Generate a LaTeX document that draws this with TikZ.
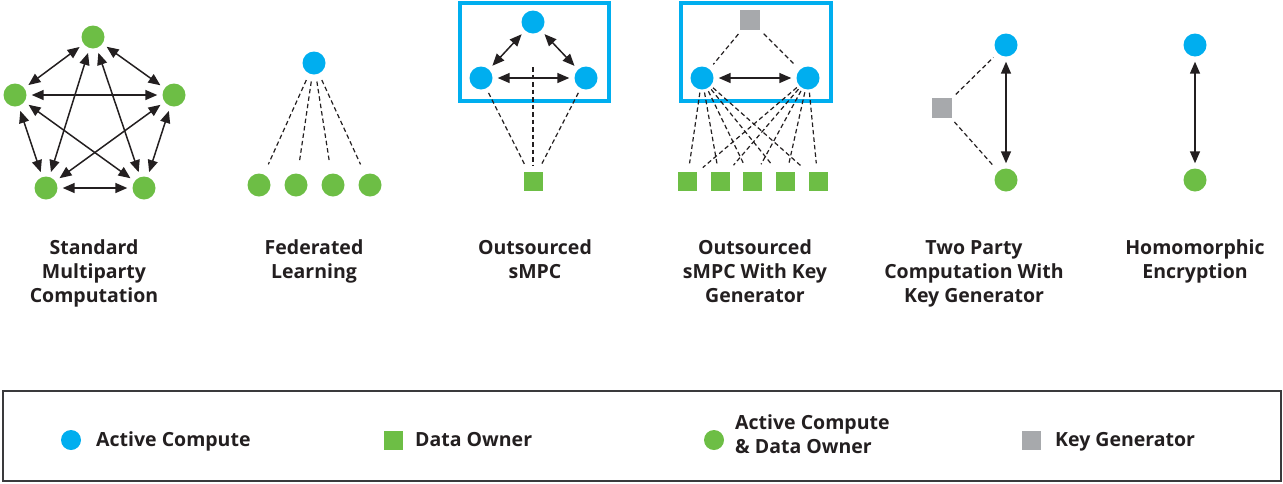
\documentclass[tikz,border=0pt]{standalone}
\usepackage{fontspec}
\setmainfont{Open Sans}
\usetikzlibrary{arrows.meta}
\definecolor{acblue}{HTML}{00AEEF}
\definecolor{dogreen}{HTML}{6DBE45}
\definecolor{kggray}{HTML}{A7A9AC}
\definecolor{ink}{HTML}{231F20}
\definecolor{rule}{HTML}{3A3A3C}

\begin{document}
\begin{tikzpicture}[x=1pt,y=-1pt,
  compute/.style={circle,fill=acblue,minimum size=23pt,inner sep=0pt},
  hybrid/.style={circle,fill=dogreen,minimum size=23pt,inner sep=0pt},
  owner/.style={rectangle,fill=dogreen,minimum size=19pt,inner sep=0pt},
  keygen/.style={rectangle,fill=kggray,minimum size=20pt,inner sep=0pt},
  tip/.tip={Triangle[length=12pt,width=10pt]},
  link/.style={draw=ink,line width=1.5pt,tip-tip,shorten <=5pt,shorten >=5pt},
  share/.style={draw=ink,line width=1.2pt,dash pattern=on 4.5pt off 3pt,shorten <=5pt,shorten >=6pt},
  frame/.style={draw=acblue,line width=3.5pt},
  title/.style={font=\bfseries\fontsize{19.5}{24}\selectfont,align=center,text=ink,anchor=north,inner sep=0pt},
  legend/.style={font=\bfseries\fontsize{19.5}{24}\selectfont,align=left,text=ink,anchor=north west,inner sep=0pt}]

\useasboundingbox (0,0) rectangle (1283,483);

% ---- Standard multiparty computation: complete graph on five parties
\node[hybrid] (p1) at (93,37) {};
\node[hybrid] (p2) at (15,95) {};
\node[hybrid] (p3) at (174,95) {};
\node[hybrid] (p4) at (46,188) {};
\node[hybrid] (p5) at (144,188) {};
\foreach \a/\b in {p1/p2,p1/p3,p1/p4,p1/p5,p2/p3,p2/p4,p2/p5,p3/p4,p3/p5,p4/p5}
  \draw[link] (\a) -- (\b);

% ---- Federated learning
\node[compute] (f0) at (314,63) {};
\foreach \i/\x in {1/259,2/296,3/333,4/370} {
  \node[hybrid] (f\i) at (\x,185) {};
  \draw[share,shorten <=7pt,shorten >=11pt] (f0) -- (f\i);
}

% ---- Outsourced sMPC
\draw[frame] (460,3) rectangle (609,101);
\node[compute] (o1) at (533,22) {};
\node[compute] (o2) at (481,78) {};
\node[compute] (o3) at (586,78) {};
\node[owner] (od) at (533,181) {};
\coordinate (oc) at (533,67);
\draw[link] (o1) -- (o2);
\draw[link] (o1) -- (o3);
\draw[link] (o2) -- (o3);
\draw[share] (o2) -- (od);
\draw[share] (o3) -- (od);
\draw[share,shorten <=0pt] (oc) -- (od);

% ---- Outsourced sMPC with key generator
\draw[frame] (681,3) rectangle (831,101);
\node[keygen] (k0) at (750,20) {};
\node[compute] (k1) at (702,78) {};
\node[compute] (k2) at (808,78) {};
\draw[link] (k1) -- (k2);
\draw[share] (k0) -- (k1);
\draw[share] (k0) -- (k2);
\foreach \i/\x in {1/687,2/720,3/752,4/785,5/818} {
  \node[owner] (s\i) at (\x,181) {};
  \draw[share,shorten <=3pt,shorten >=8pt] (k1) -- (s\i);
  \draw[share,shorten <=3pt,shorten >=8pt] (k2) -- (s\i);
}

% ---- Two party computation with key generator
\node[compute] (t1) at (1006,45) {};
\node[hybrid] (t2) at (1006,180) {};
\node[keygen] (tk) at (942,108) {};
\draw[link] (t1) -- (t2);
\draw[share] (tk) -- (t1);
\draw[share] (tk) -- (t2);

% ---- Homomorphic encryption
\node[compute] (h1) at (1195,45) {};
\node[hybrid] (h2) at (1195,180) {};
\draw[link] (h1) -- (h2);

% ---- Captions
\node[title] (c1) at (94,237) {\strut Standard\\Multiparty\\Computation};
\node[title] (c2) at (314,237) {\strut Federated\\Learning};
\node[title] (c3) at (535,237) {\strut Outsourced\\sMPC};
\node[title] (c4) at (755,237) {\strut Outsourced\\sMPC With Key\\Generator};
\node[title] (c5) at (974,237) {\strut Two Party\\Computation With\\Key Generator};
\node[title] (c6) at (1195,237) {\strut Homomorphic\\Encryption};

% ---- Legend
\draw[draw=rule,line width=1.5pt] (3,391) rectangle (1281,481);
\node[compute,minimum size=20pt] (l1) at (71,440) {};
\node[legend] (lt1) at (96,429.2) {\strut Active Compute};
\node[owner] (l2) at (393,440) {};
\node[legend] (lt2) at (415,429.2) {\strut Data Owner};
\node[hybrid,minimum size=20pt] (l3) at (714,440) {};
\node[legend] (lt3) at (735,412.2) {\strut Active Compute\\\& Data Owner};
\node[keygen,minimum size=19pt] (l4) at (1031,440) {};
\node[legend] (lt4) at (1055,429.2) {\strut Key Generator};
\end{tikzpicture}
\end{document}
